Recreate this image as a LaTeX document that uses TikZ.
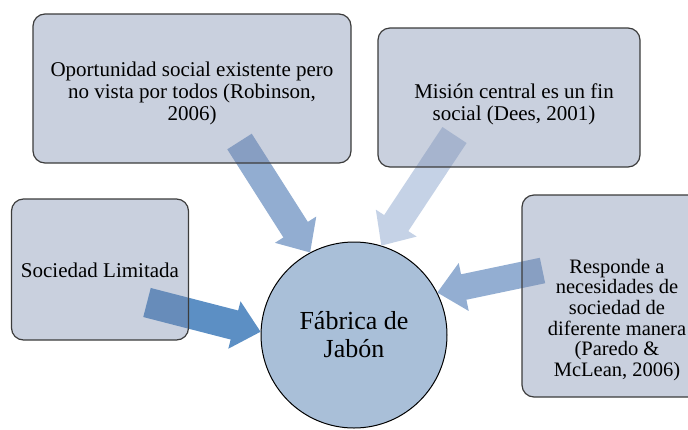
\documentclass[tikz,border=0pt]{standalone}
\usepackage{fontspec}
\setmainfont{Liberation Serif}
\usetikzlibrary{calc}

\definecolor{boxfill}{RGB}{120,137,172}
\definecolor{boxline}{RGB}{60,60,60}
\definecolor{fabfill}{RGB}{169,191,216}
\definecolor{arrA}{RGB}{146,173,209}
\definecolor{arrB}{RGB}{197,210,230}
\definecolor{arrC}{RGB}{92,143,196}
\definecolor{arrD}{RGB}{147,174,210}

\begin{document}
\begin{tikzpicture}[x=1pt,y=-1pt,
    box/.style={draw=boxline,line width=1.2pt,fill=boxfill,fill opacity=0.4,
      rounded corners=12pt,inner sep=0pt},
    txt/.style={align=center,inner sep=0pt,font=\fontsize{21}{22}\selectfont}]
      \def\hl{27pt}
      \def\hw{24.5pt}

      \useasboundingbox (0,0) rectangle (688,429);
      \clip (0,0) rectangle (688,429);

      % centre
      \node[circle,draw,line width=1pt,fill=fabfill,minimum size=186pt,
            inner sep=0pt,align=center,font=\fontsize{26}{28}\selectfont]
            (fab) at (354,335) {Fábrica de\\Jabón};

      % arrow tails
      \coordinate (opp-tail) at (239.5,141.5);
      \coordinate (mis-tail) at (454.5,135);
      \coordinate (soc-tail) at (147,302.5);
      \coordinate (res-tail) at (542.5,270.5);

      % arrows
      \foreach \from/\ang/\col/\sw in
               {opp/118/arrA/14.5pt, mis/73/arrB/14.5pt,
                soc/178/arrC/15pt, res/27/arrD/13pt}
               {
                 \coordinate (tip) at (fab.\ang);
                 \coordinate (base) at ($(tip)!\hl!(\from-tail)$);
                 \fill[\col] ($(\from-tail)!\sw!90:(tip)$)
                 -- ($(base)!\sw!90:(tip)$)
                 -- ($(base)!\hw!90:(tip)$)
                 -- (tip)
                 -- ($(base)!\hw!-90:(tip)$)
                 -- ($(base)!\sw!-90:(tip)$)
                 -- ($(\from-tail)!\sw!-90:(tip)$) -- cycle;
               }

      % boxes
      \node[box,minimum width=318pt,minimum height=149pt] (opp) at (192,88.5) {};
      \node[box,minimum width=262pt,minimum height=139pt] (mis) at (509,97.5) {};
      \node[box,minimum width=177pt,minimum height=141pt] (soc) at (100,269.5) {};
      \node[box,minimum width=190pt,minimum height=202pt] (res) at (617,296) {};

      % texts
      \node[txt] (opp-txt) at (192,93)
            {Oportunidad social existente pero\\no vista por todos (Robinson,\\2006)};
      \node[txt] (mis-txt) at (514,104)
            {Misión central es un fin\\social (Dees, 2001)};
      \node[txt] (soc-txt) at (100,270) {Sociedad Limitada};
      \node[txt,font=\fontsize{20.5}{20.7}\selectfont] (res-txt) at (617,320)
            {Responde a\\necesidades de\\sociedad de\\diferente manera\\(Paredo \&\\McLean, 2006)};
\end{tikzpicture}
\end{document}
